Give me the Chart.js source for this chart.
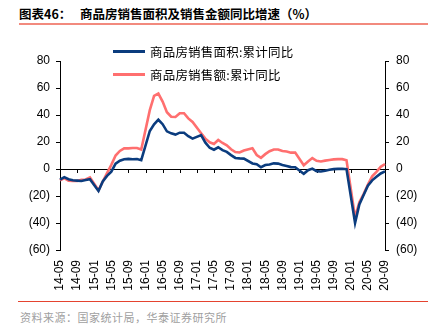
<!DOCTYPE html>
<html>
<head>
<meta charset="utf-8">
<script src="https://cdn.jsdelivr.net/npm/chart.js@4"></script>
<style>
  html, body { margin: 0; padding: 0; background: #fff; }
  body { width: 436px; height: 331px; position: relative; overflow: hidden; font-family: "Noto Sans CJK SC", sans-serif; }
  #title { position: absolute; left: 19px; top: 5px; font-size: 12.5px; font-weight: bold; color: #000; line-height: 18px; white-space: nowrap; }
  #title .tag { display: inline-block; width: 61px; }
  #rule-top { position: absolute; left: 19px; top: 23px; width: 409px; height: 2px; background: #f28a7e; }
  #rule-bottom { position: absolute; left: 18px; top: 301px; width: 410px; height: 1px; background: #e5432f; }
  #source { position: absolute; left: 20px; top: 309px; font-size: 11px; letter-spacing: 0.5px; color: #a0a0a0; line-height: 16px; white-space: nowrap; }
  #legend { position: absolute; left: 113px; top: 40px; font-size: 12.5px; letter-spacing: 0.2px; color: #000; z-index: 2; }
  .item { display: flex; align-items: center; height: 23px; white-space: nowrap; }
  .swatch { width: 32px; height: 3px; margin-right: 5px; }
  #chart { position: absolute; left: 0; top: 0; }
</style>
</head>
<body>
<div id="title"><span class="tag">图表46：</span>商品房销售面积及销售金额同比增速（%）</div>
<div id="rule-top"></div>
<canvas id="chart" width="436" height="300"></canvas>
<div id="legend"></div>
<div id="rule-bottom"></div>
<div id="source">资料来源：国家统计局，华泰证券研究所</div>

<script>
'use strict';

// ── Data ──────────────────────────────────────────────────────────────────────

const months = [
  '14-05', '14-06', '14-07', '14-08', '14-09', '14-10', '14-11', '14-12',
  '15-01', '15-02', '15-03', '15-04', '15-05', '15-06', '15-07', '15-08', '15-09', '15-10', '15-11', '15-12',
  '16-01', '16-02', '16-03', '16-04', '16-05', '16-06', '16-07', '16-08', '16-09', '16-10', '16-11', '16-12',
  '17-01', '17-02', '17-03', '17-04', '17-05', '17-06', '17-07', '17-08', '17-09', '17-10', '17-11', '17-12',
  '18-01', '18-02', '18-03', '18-04', '18-05', '18-06', '18-07', '18-08', '18-09', '18-10', '18-11', '18-12',
  '19-01', '19-02', '19-03', '19-04', '19-05', '19-06', '19-07', '19-08', '19-09', '19-10', '19-11', '19-12',
  '20-01', '20-02', '20-03', '20-04', '20-05', '20-06', '20-07', '20-08', '20-09',
];

// 商品房销售面积:累计同比 (%), January is reported together with February
const areaYoY = [
  -7.8, -6.0, -7.6, -8.3, -8.6, -8.9, -8.2, -7.6,
  null, -16.3, -9.2, -5.1, -2.0, 3.9, 6.1, 7.2, 7.5, 7.2, 7.4, 6.5,
  null, 28.2, 33.1, 36.5, 33.2, 27.9, 26.4, 25.5, 26.9, 26.8, 24.3, 22.5,
  null, 25.1, 19.5, 15.7, 14.3, 16.1, 14.0, 12.7, 10.3, 8.2, 7.9, 7.7,
  null, 4.1, 3.6, 1.3, 2.9, 3.3, 4.2, 4.0, 2.9, 2.2, 1.4, 1.3,
  null, -3.6, -0.9, 0.3, -1.6, -1.8, -1.3, -0.6, -0.1, 0.1, 0.2, -0.1,
  null, -39.9, -26.3, -19.3, -12.3, -8.4, -5.8, -3.3, -1.8,
];

// 商品房销售额:累计同比 (%)
const valueYoY = [
  -8.5, -6.7, -8.7, -8.9, -8.9, -8.0, -7.8, -6.3,
  null, -15.8, -9.3, -3.0, 3.1, 10.0, 13.4, 15.3, 15.3, 15.6, 15.6, 14.4,
  null, 43.6, 54.1, 55.9, 49.9, 42.1, 38.7, 38.5, 41.3, 41.3, 37.5, 34.8,
  null, 26.5, 22.5, 19.8, 18.6, 21.5, 19.3, 17.6, 14.6, 12.6, 12.2, 13.7,
  null, 15.3, 10.4, 8.3, 11.0, 13.2, 14.5, 14.5, 13.3, 13.0, 12.1, 12.2,
  null, 2.8, 5.6, 8.1, 6.1, 5.6, 6.2, 6.7, 7.1, 7.3, 7.3, 6.5,
  null, -35.9, -24.7, -18.6, -11.6, -5.4, -2.1, 1.6, 3.7,
];

const seriesNames = ['商品房销售面积:累计同比', '商品房销售额:累计同比'];
const seriesColors = ['#0b3c7e', '#ff6f6f'];

const yMin = -60;
const yMax = 80;
const yStep = 20;
const labelEvery = 4;

// ── Chart ─────────────────────────────────────────────────────────────────────

Chart.defaults.font.family = "'Liberation Sans', Arial, sans-serif";
Chart.defaults.font.size = 12;
Chart.defaults.color = '#000';

function fmtTick(v) {
  return v < 0 ? `(${-v})` : String(v);
}

// small tick marks hanging off the zero line, one per labelled month
const zeroTicks = {
  id: 'zeroTicks',
  beforeDatasetsDraw(chart) {
    const x = chart.scales.x;
    const y0 = chart.scales.y.getPixelForValue(0);
    const ctx = chart.ctx;
    ctx.save();
    ctx.strokeStyle = '#000';
    ctx.lineWidth = 1;
    ctx.beginPath();
    months.forEach((m, i) => {
      if (i % labelEvery !== 0) return;
      const px = Math.round(x.getPixelForValue(i)) + 0.5;
      ctx.moveTo(px, y0);
      ctx.lineTo(px, y0 + 4);
    });
    ctx.stroke();
    ctx.restore();
  },
};

function lineDataset(label, data, color) {
  return {
    label,
    data,
    borderColor: color,
    backgroundColor: color,
    borderWidth: 2.6,
    pointRadius: 0,
    tension: 0,
    spanGaps: true,
    yAxisID: 'y',
  };
}

new Chart(document.getElementById('chart'), {
  type: 'line',
  data: {
    labels: months,
    datasets: [
      lineDataset(seriesNames[0], areaYoY, seriesColors[0]),
      lineDataset(seriesNames[1], valueYoY, seriesColors[1]),
    ],
  },
  options: {
    responsive: false,
    animation: false,
    layout: { padding: { top: 61, left: 0, right: 0, bottom: 0 } },
    plugins: { legend: { display: false }, tooltip: { enabled: false } },
    scales: {
      x: {
        offset: false,
        grid: { display: false, drawTicks: false },
        border: { display: false },
        ticks: {
          autoSkip: false,
          minRotation: 90,
          maxRotation: 90,
          padding: 10,
          callback: (v, i) => (i % labelEvery === 0 ? months[i] : ''),
        },
        afterFit: s => { s.height = 50; },
      },
      y: {
        position: 'left',
        min: yMin,
        max: yMax,
        ticks: { stepSize: yStep, padding: 6, callback: fmtTick },
        grid: {
          color: c => (c.tick && c.tick.value === 0 ? '#000' : 'transparent'),
          tickColor: '#000',
          tickLength: 4,
        },
        border: { color: '#000' },
        afterFit: s => { s.width = 60; },
      },
      y2: {
        position: 'right',
        min: yMin,
        max: yMax,
        ticks: { stepSize: yStep, padding: 7, callback: fmtTick },
        grid: { drawOnChartArea: false, tickColor: '#000', tickLength: 4 },
        border: { color: '#000' },
        afterFit: s => { s.width = 51; },
      },
    },
  },
  plugins: [zeroTicks],
});

// ── Legend ────────────────────────────────────────────────────────────────────

const legendEl = document.getElementById('legend');
seriesNames.forEach((name, i) => {
  const row = document.createElement('div');
  row.className = 'item';
  row.innerHTML = `<span class="swatch" style="background:${seriesColors[i]}"></span>${name}`;
  legendEl.appendChild(row);
});
</script>
</body>
</html>
